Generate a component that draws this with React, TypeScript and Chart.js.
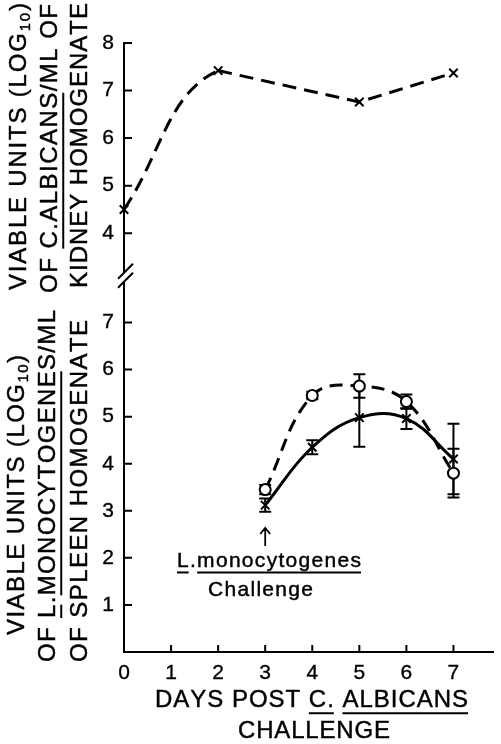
import React, { useEffect, useRef } from 'react';
import { Chart, registerables } from 'chart.js';

Chart.register(...registerables);

// ---- data ----
const kidneyDays = [0, 2, 5, 7];
const kidneyLog = [4.5, 7.42, 6.76, 7.37];

const spleenDays = [3, 4, 5, 6, 7];
const spleenCircle = [3.45, 5.45, 5.65, 5.32, 3.8];
const spleenCircleErr = [0.1, 0.08, 0.25, 0.15, 0.52];
const spleenCross = [3.12, 4.35, 4.98, 4.96, 4.1];
const spleenCrossErr = [0.14, 0.15, 0.62, 0.22, 0.75];

const xTicks = [0, 1, 2, 3, 4, 5, 6, 7];
const kidneyTicks = [4, 5, 6, 7, 8];
const spleenTicks = [1, 2, 3, 4, 5, 6, 7];

const FONT = '"Liberation Sans", Arial, Helvetica, sans-serif';
const CLEAR = 'rgba(0,0,0,0)';

type Seg = { t: string; u?: boolean; sub?: boolean };

function drawRich(
  ctx: CanvasRenderingContext2D,
  segs: Seg[],
  x: number,
  y: number,
  len: number,
  size: number,
  rot: boolean
) {
  ctx.save();
  ctx.translate(x, y);
  if (rot) ctx.rotate(-Math.PI / 2);
  ctx.fillStyle = '#000';
  ctx.strokeStyle = '#000';
  ctx.textBaseline = 'alphabetic';
  ctx.textAlign = 'left';
  ctx.lineJoin = 'round';
  const chars: { c: string; s: Seg }[] = [];
  for (const s of segs) for (const c of Array.from(s.t)) chars.push({ c, s });
  const fontFor = (s: Seg) => `${s.sub ? Math.round(size * 0.62) : size}px ${FONT}`;
  const widths = chars.map(({ c, s }) => {
    ctx.font = fontFor(s);
    return ctx.measureText(c).width;
  });
  const natural = widths.reduce((a, b) => a + b, 0);
  const extra = chars.length > 1 ? (len - natural) / (chars.length - 1) : 0;
  let pos = 0;
  const ranges = new Map<Seg, { a: number; b: number }>();
  chars.forEach(({ c, s }, i) => {
    ctx.font = fontFor(s);
    const yy = s.sub ? size * 0.15 : 0;
    ctx.lineWidth = 0.45;
    ctx.fillText(c, pos, yy);
    ctx.strokeText(c, pos, yy);
    const r = ranges.get(s) || { a: pos, b: pos };
    r.b = pos + widths[i];
    ranges.set(s, r);
    pos += widths[i] + extra;
  });
  ctx.lineWidth = 2;
  ranges.forEach((r, s) => {
    if (s.u) {
      ctx.beginPath();
      ctx.moveTo(r.a, size * 0.26);
      ctx.lineTo(r.b, size * 0.26);
      ctx.stroke();
    }
  });
  ctx.restore();
}

const decor = {
  id: 'decor',
  beforeDatasetsDraw(chart: any) {
    const ctx: CanvasRenderingContext2D = chart.ctx;
    const xs = chart.scales.x;
    const ys = chart.scales.yBot;
    ctx.save();
    ctx.strokeStyle = '#000';
    ctx.lineWidth = 2;
    const bars = (vals: number[], errs: number[]) => {
      spleenDays.forEach((d, i) => {
        const px = xs.getPixelForValue(d);
        const hi = ys.getPixelForValue(vals[i] + errs[i]);
        const lo = ys.getPixelForValue(vals[i] - errs[i]);
        ctx.beginPath();
        ctx.moveTo(px, hi);
        ctx.lineTo(px, lo);
        ctx.moveTo(px - 6, hi);
        ctx.lineTo(px + 6, hi);
        ctx.moveTo(px - 6, lo);
        ctx.lineTo(px + 6, lo);
        ctx.stroke();
      });
    };
    bars(spleenCircle, spleenCircleErr);
    bars(spleenCross, spleenCrossErr);
    ctx.restore();
  },
  afterDraw(chart: any) {
    const ctx: CanvasRenderingContext2D = chart.ctx;
    const xs = chart.scales.x;
    const yt = chart.scales.yTop;
    const yb = chart.scales.yBot;
    const left = chart.chartArea.left;
    const bottom = chart.chartArea.bottom;
    ctx.save();
    ctx.strokeStyle = '#000';
    ctx.lineWidth = 2;
    // inward tick marks
    ctx.beginPath();
    kidneyTicks.forEach((v) => {
      const p = yt.getPixelForValue(v);
      ctx.moveTo(left, p);
      ctx.lineTo(left + 8, p);
    });
    spleenTicks.forEach((v) => {
      const p = yb.getPixelForValue(v);
      ctx.moveTo(left, p);
      ctx.lineTo(left + 8, p);
    });
    xTicks.forEach((v) => {
      const p = xs.getPixelForValue(v);
      ctx.moveTo(p, bottom);
      ctx.lineTo(p, bottom - 7);
    });
    ctx.stroke();
    // axis break
    const B = yt.bottom;
    ctx.fillStyle = '#fff';
    ctx.fillRect(left - 2, B + 2, 4, 9);
    ctx.beginPath();
    ctx.moveTo(left - 6, B + 8);
    ctx.lineTo(left + 9, B - 7);
    ctx.moveTo(left - 6, B + 17);
    ctx.lineTo(left + 9, B + 2);
    ctx.stroke();
    // arrow at L. monocytogenes challenge
    const ax = xs.getPixelForValue(3);
    ctx.lineWidth = 1.8;
    ctx.beginPath();
    ctx.moveTo(ax, 546);
    ctx.lineTo(ax, 528);
    ctx.moveTo(ax - 5, 534);
    ctx.lineTo(ax, 528);
    ctx.lineTo(ax + 5, 534);
    ctx.stroke();
    ctx.restore();

    // axis titles (top panel)
    drawRich(ctx, [{ t: 'VIABLE UNITS (LOG' }, { t: '10', sub: true }, { t: ')' }], 26, 290, 287, 24, true);
    drawRich(ctx, [{ t: 'OF ' }, { t: 'C.ALBICANS', u: true }, { t: '/ML OF' }], 57, 293, 289, 24, true);
    drawRich(ctx, [{ t: 'KIDNEY HOMOGENATE' }], 87, 288, 285, 24, true);
    // axis titles (bottom panel)
    drawRich(ctx, [{ t: 'VIABLE UNITS (LOG' }, { t: '10', sub: true }, { t: ')' }], 24, 635, 280, 24, true);
    drawRich(
      ctx,
      [{ t: 'OF ' }, { t: 'L', u: true }, { t: '.' }, { t: 'MONOCYTOGENE', u: true }, { t: 'S/ML' }],
      55,
      662,
      352,
      24,
      true
    );
    drawRich(ctx, [{ t: 'OF SPLEEN HOMOGENATE' }], 87, 662, 342, 24, true);
    // x title
    drawRich(
      ctx,
      [{ t: 'DAYS POST ' }, { t: 'C.', u: true }, { t: ' ' }, { t: 'ALBICANS', u: true }],
      155,
      707,
      313,
      24,
      false
    );
    drawRich(ctx, [{ t: 'CHALLENGE' }], 238, 738, 152, 24, false);
    // annotation
    drawRich(ctx, [{ t: 'L', u: true }, { t: '.' }, { t: 'monocytogenes', u: true }], 177, 567, 184, 21, false);
    drawRich(ctx, [{ t: 'Challenge' }], 208, 596, 105, 21, false);
  },
};

const tickFont = { family: FONT, size: 21 };
const tickOpts = (pad: number) => ({
  color: '#000',
  font: tickFont,
  padding: pad,
  autoSkip: false,
  maxRotation: 0,
  textStrokeColor: '#000',
  textStrokeWidth: 0.35,
});

export default function App() {
  const ref = useRef<HTMLCanvasElement>(null);
  useEffect(() => {
    const canvas = ref.current!;
    const chart = new Chart(canvas, {
      type: 'line',
      data: {
        datasets: [
          {
            label: 'Kidney C. albicans (markers, straight segments)',
            data: kidneyDays.map((d, i) => ({ x: d, y: kidneyLog[i] })),
            xAxisID: 'x',
            yAxisID: 'yTop',
            borderColor: '#000',
            borderWidth: 3,
            borderDash: [14, 8],
            tension: 0,
            segment: { borderColor: (c: any) => (c.p0DataIndex === 0 ? CLEAR : '#000') },
            pointStyle: 'crossRot',
            pointRadius: 6,
            pointBorderWidth: 2,
            pointBorderColor: '#000',
            pointBackgroundColor: '#000',
            fill: false,
            clip: false,
          } as any,
          {
            label: 'Kidney C. albicans (rising curve)',
            data: kidneyDays.slice(0, 3).map((d, i) => ({ x: d, y: kidneyLog[i] })),
            xAxisID: 'x',
            yAxisID: 'yTop',
            borderColor: '#000',
            borderWidth: 3,
            borderDash: [14, 8],
            tension: 0.4,
            segment: { borderColor: (c: any) => (c.p0DataIndex === 0 ? '#000' : CLEAR) },
            pointRadius: 0,
            fill: false,
            clip: false,
          } as any,
          {
            label: 'Spleen circle',
            data: spleenDays.map((d, i) => ({ x: d, y: spleenCircle[i] })),
            xAxisID: 'x',
            yAxisID: 'yBot',
            borderColor: '#000',
            borderWidth: 3,
            borderDash: [13, 8],
            tension: 0.4,
            pointStyle: 'circle',
            pointRadius: 5.5,
            pointBorderWidth: 2,
            pointBorderColor: '#000',
            pointBackgroundColor: '#fff',
            fill: false,
            clip: false,
          } as any,
          {
            label: 'Spleen cross',
            data: spleenDays.map((d, i) => ({ x: d, y: spleenCross[i] })),
            xAxisID: 'x',
            yAxisID: 'yBot',
            borderColor: '#000',
            borderWidth: 3,
            tension: 0.4,
            pointStyle: 'crossRot',
            pointRadius: 6,
            pointBorderWidth: 2,
            pointBorderColor: '#000',
            pointBackgroundColor: '#000',
            fill: false,
            clip: false,
          } as any,
        ],
      },
      options: {
        responsive: false,
        animation: false,
        layout: { padding: { top: 43, right: 1, left: 0, bottom: 0 } },
        plugins: { legend: { display: false }, tooltip: { enabled: false } },
        scales: {
          x: {
            type: 'linear',
            position: 'bottom',
            min: 0,
            max: 7.84,
            grid: { display: false, drawTicks: false },
            border: { display: true, color: '#000', width: 2 },
            ticks: tickOpts(9),
            afterBuildTicks: (s: any) => {
              s.ticks = xTicks.map((v) => ({ value: v }));
            },
            afterFit: (s: any) => {
              s.height = 92;
            },
          },
          yBot: {
            type: 'linear',
            position: 'left',
            stack: 'v',
            stackWeight: 6.26,
            min: 0,
            max: 8.1,
            grid: { display: false, drawTicks: false },
            border: { display: true, color: '#000', width: 2 },
            ticks: tickOpts(10),
            afterBuildTicks: (s: any) => {
              s.ticks = spleenTicks.map((v) => ({ value: v }));
            },
            afterFit: (s: any) => {
              s.width = 124;
            },
          },
          yTop: {
            type: 'linear',
            position: 'left',
            stack: 'v',
            stackWeight: 3.74,
            min: 3.21,
            max: 8,
            grid: { display: false, drawTicks: false },
            border: { display: true, color: '#000', width: 2 },
            ticks: tickOpts(10),
            afterBuildTicks: (s: any) => {
              s.ticks = kidneyTicks.map((v) => ({ value: v }));
            },
            afterFit: (s: any) => {
              s.width = 124;
            },
          },
        },
      } as any,
      plugins: [decor],
    });
    return () => chart.destroy();
  }, []);
  return (
    <div style={{ position: 'absolute', left: 0, top: 0, width: 501, height: 744, background: '#fff' }}>
      <canvas ref={ref} width={501} height={744} style={{ display: 'block', width: 501, height: 744 }} />
    </div>
  );
}
